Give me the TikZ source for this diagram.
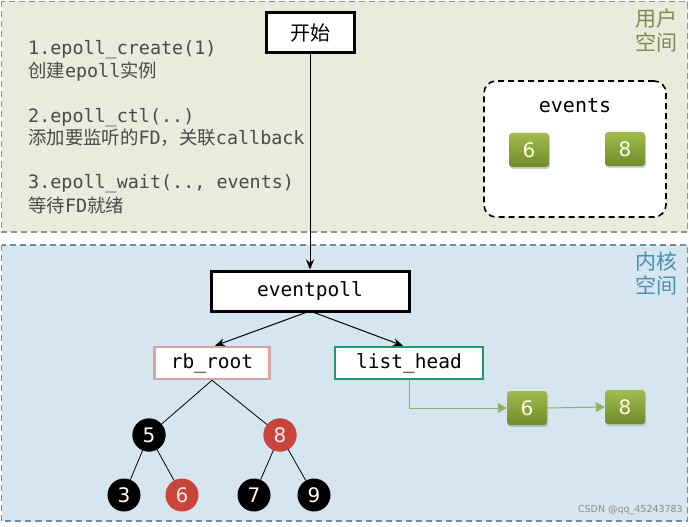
\documentclass[tikz,border=0pt]{standalone}
\usepackage{fontspec}
\setmainfont{DejaVu Sans}
\newfontfamily\mono{DejaVu Sans Mono}
\newfontfamily\cjk{Noto Sans CJK SC}
\usetikzlibrary{arrows.meta,shadows}
\definecolor{userbg}{HTML}{E9EBDC}
\definecolor{userline}{HTML}{8E9486}
\definecolor{userlbl}{HTML}{7D8C4E}
\definecolor{kernbg}{HTML}{D6E6F1}
\definecolor{kernline}{HTML}{6E8FA0}
\definecolor{kernlbl}{HTML}{4B8DB5}
\definecolor{txtgray}{HTML}{4A4A4A}
\definecolor{rbpink}{HTML}{D9A3A3}
\definecolor{lhgreen}{HTML}{1F9A6C}
\definecolor{gtop}{HTML}{A2BC4E}
\definecolor{gbot}{HTML}{6F8B2B}
\definecolor{glink}{HTML}{8DB468}
\definecolor{rbred}{HTML}{C9443A}
\tikzset{
  region/.style={dash pattern=on 6pt off 4pt, line width=1.2pt},
  bigbox/.style={draw=black, line width=3pt, fill=white, font=\mono\fontsize{19.5}{22}\selectfont, inner sep=0pt},
  thinbox/.style={line width=2.5pt, fill=white, font=\mono\fontsize{19.5}{22}\selectfont, inner sep=0pt, minimum height=32pt},
  gbox/.style={rounded corners=3pt, top color=gtop, bottom color=gbot, draw=none,
     minimum width=40pt, minimum height=34pt, text=white!90!yellow,
     font=\fontsize{20}{22}\selectfont, drop shadow={opacity=0.35, shadow xshift=1pt, shadow yshift=-2pt}},
  blk/.style={circle, fill=black, text=white, minimum size=33pt, inner sep=0pt, font=\fontsize{20}{22}\selectfont},
  red/.style={circle, fill=rbred, text=white!92!red, minimum size=33pt, inner sep=0pt, font=\fontsize{20}{22}\selectfont},
  desc/.style={anchor=base west, text=txtgray, inner sep=0pt, font=\mono\fontsize{18.4}{20}\selectfont},
  lbl/.style={align=right, anchor=north east, inner sep=0pt, font=\cjk\fontsize{21}{24}\selectfont},
  arr/.style={-{Stealth[length=10pt,width=8pt]}, line width=1pt},
  garr/.style={glink, line width=1pt, -{Triangle[length=9pt,width=10pt]}}
}
\begin{document}
\begin{tikzpicture}[x=1pt,y=-1pt]
\useasboundingbox (0,0) rectangle (689,527);
\fill[white] (0,0) rectangle (689,527);
% regions
\draw[region, draw=userline, fill=userbg] (1.5,1.5) rectangle (687.5,232);
\draw[region, draw=kernline, fill=kernbg] (1.5,245) rectangle (687.5,521);
\node[lbl, text=userlbl] (ulbl) at (678,9) {用户\\空间};
\node[lbl, text=kernlbl] (klbl) at (678,252) {内核\\空间};
% descriptions
\node[desc] (d1) at (28,55) {1.epoll\_create(1)};
\node[desc] (d1b) at (28,78) {{\cjk 创建}epoll{\cjk 实例}};
\node[desc] (d2) at (28,122) {2.epoll\_ctl(..)};
\node[desc] (d2b) at (28,145) {{\cjk 添加要监听的}FD{\cjk ，关联}callback};
\node[desc] (d3) at (28,189) {3.epoll\_wait(.., events)};
\node[desc] (d3b) at (28,212) {{\cjk 等待}FD{\cjk 就绪}};
% events
\node[draw=black, dash pattern=on 6pt off 4pt, line width=1.6pt, rounded corners=12pt, fill=white,
      minimum width=182pt, minimum height=136pt] (ev) at (575,149) {};
\node[font=\mono\fontsize{20}{22}\selectfont, inner sep=0pt] (evt) at (575,106) {events};
\node[gbox] (e6) at (529,150) {6};
\node[gbox] (e8) at (625,149) {8};
% start
\node[bigbox, minimum width=88pt, minimum height=40pt, font=\cjk\fontsize{20}{22}\selectfont] (start) at (310,33) {开始};
% eventpoll
\node[bigbox, minimum width=198pt, minimum height=40pt] (ep) at (310,291) {eventpoll};
\node[thinbox, draw=rbpink, minimum width=115pt] (rb) at (212,363) {rb\_root};
\node[thinbox, draw=lhgreen, minimum width=148pt] (lh) at (409,363) {list\_head};
\draw[arr] (start) -- (ep);
\draw[arr] ([xshift=-4pt]ep.south) -- ([xshift=3pt]rb.north);
\draw[arr] ([xshift=4pt]ep.south) -- ([xshift=-6pt]lh.north);
% tree
\node[blk] (n5) at (149,435) {5};
\node[red] (n8) at (280,435) {8};
\node[blk] (n3) at (124,495) {3};
\node[red] (n6) at (182,495) {6};
\node[blk] (n7) at (254,495) {7};
\node[blk] (n9) at (314,495) {9};
\draw[line width=0.8pt] (rb.south) -- (n5);
\draw[line width=0.8pt] (rb.south) -- (n8);
\draw[line width=0.8pt] (n5.center) -- (n3);
\draw[line width=0.8pt] (n5.center) -- (n6);
\draw[line width=0.8pt] (n8.center) -- (n7);
\draw[line width=0.8pt] (n8.center) -- (n9);
\node[blk] at (149,435) {5};
\node[red] at (280,435) {8};
% ready list
\node[gbox] (l6) at (527,408) {6};
\node[gbox] (l8) at (625,407) {8};
\draw[garr] (lh.south) |- (l6.west);
\draw[garr] (l6.east) -- (l8.west);
% watermark
\node[text=black!45, font=\fontsize{9.5}{10}\selectfont, anchor=east, inner sep=0pt] (wm) at (683,510) {CSDN @qq\_45243783};
\end{tikzpicture}
\end{document}
